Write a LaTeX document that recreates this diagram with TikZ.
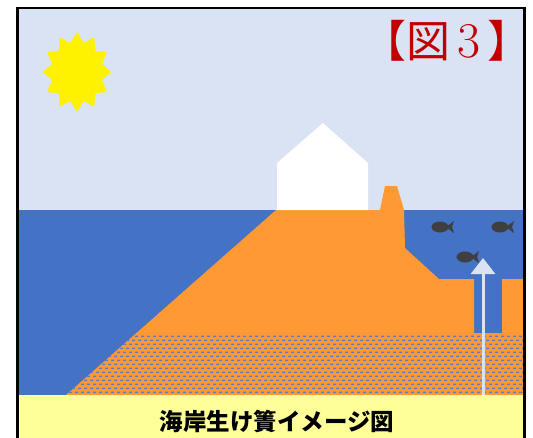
\documentclass[tikz,border=0pt]{standalone}
\usepackage{fontspec}
\newfontfamily\cjk{Noto Sans CJK JP}
\usetikzlibrary{shapes.geometric,patterns,arrows.meta}

\definecolor{sky}{HTML}{DAE3F3}
\definecolor{sea}{HTML}{4472C4}
\definecolor{sand}{HTML}{FF9933}
\definecolor{note}{HTML}{FFFF99}
\definecolor{titlered}{HTML}{C00000}
\definecolor{fishgray}{HTML}{3F3F3F}
\definecolor{grain}{HTML}{667CBF}

\pgfdeclarepatternformonly{gravel}{\pgfqpoint{-1pt}{-1pt}}{\pgfqpoint{7pt}{9pt}}{\pgfqpoint{6pt}{8pt}}{
  \pgfpathrectangle{\pgfqpoint{0pt}{0pt}}{\pgfqpoint{3pt}{1.3pt}}
  \pgfpathrectangle{\pgfqpoint{3pt}{4pt}}{\pgfqpoint{3pt}{1.3pt}}
  \pgfusepath{fill}
}

\begin{document}
\begin{tikzpicture}[x=1pt,y=-1pt,
  sun/.style={star, star points=12, star point ratio=1.33, fill=yellow,
    minimum size=80pt, inner sep=0pt, xscale=0.86, transform shape},
  fish/.style={fill=fishgray},
  pipe/.style={draw=sky, line width=3pt, -{Triangle[width=24pt,length=16pt]}},
  frame/.style={draw=black, line width=2.5pt}
  ]
  \useasboundingbox (0,0) rectangle (533,437);

  \fill[sky] (18,8) rectangle (524,210);
  \fill[sea] (18,210) rectangle (524,395);

  \fill[sand] (276,210) -- (380,210) -- (385,186) -- (397,186) -- (404,210) -- (405,248)
    -- (439,279) -- (474,279) -- (474,333) -- (502,333) -- (502,279) -- (523,279)
    -- (523,395) -- (66,395) -- cycle;
  \fill[pattern=gravel, pattern color=grain]
    (136,333) -- (523,333) -- (523,395) -- (66,395) -- cycle;

  \fill[white] (277,210) -- (277,163) -- (323,123) -- (368,163) -- (368,210) -- cycle;

  \foreach \fx/\fy in {440/227, 500/227, 465/257} {
    \fill[fish] (\fx,\fy) ellipse [x radius=8.5, y radius=5.5];
    \fill[fish] (\fx+6,\fy) -- (\fx+14,\fy-6) -- (\fx+12,\fy) -- (\fx+14,\fy+6) -- cycle;
  }

  \coordinate (pipe foot) at (483,395);
  \coordinate (pipe tip) at (483,258);
  \draw[pipe] (pipe foot) -- (pipe tip);

  \node[sun] (sun) at (77,72) {};

  \node[text=titlered, anchor=east, inner sep=0pt] (title) at (532,41)
    {\cjk\fontsize{44}{44}\selectfont 【図\,{\rmfamily\fontsize{50}{50}\selectfont 3}\,】};

  \fill[note] (20,395) rectangle (523,440);
  \node[font=\cjk\bfseries\fontsize{23.5}{24}\selectfont] (caption) at (277,421)
    {海岸生け簀イメージ図};

  \draw[frame] (17.5,440) -- (17.5,8) -- (524.5,8) -- (524.5,440);
\end{tikzpicture}
\end{document}
